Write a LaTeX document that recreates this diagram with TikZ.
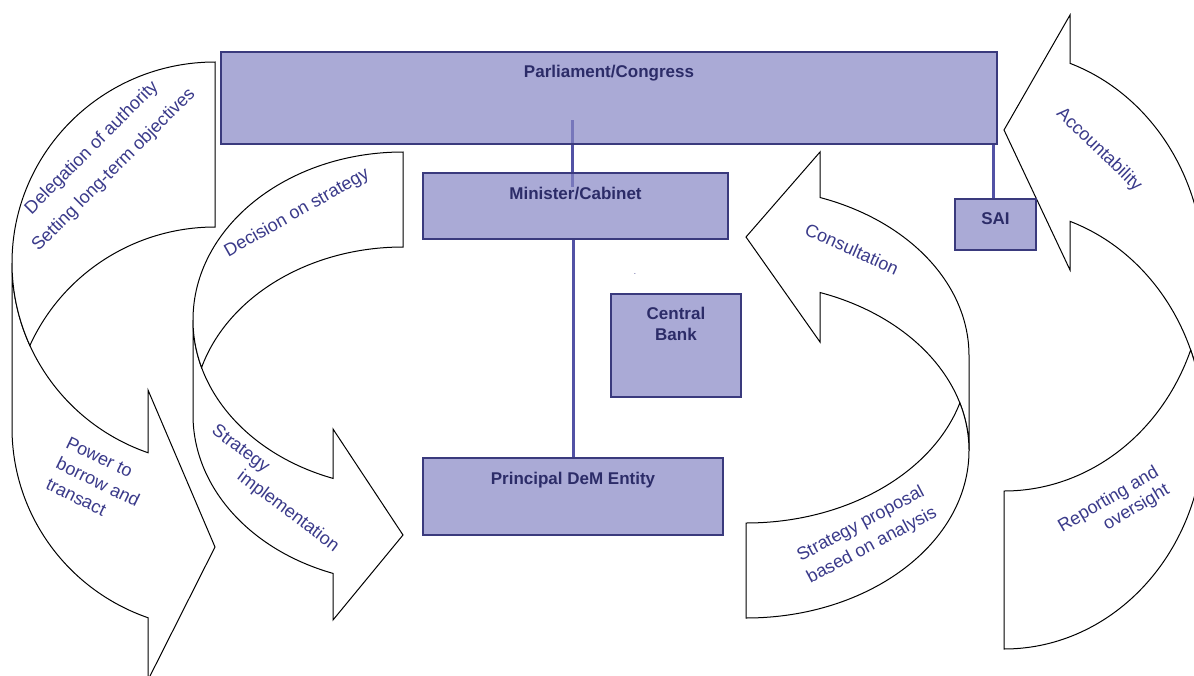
\documentclass[tikz,border=0pt]{standalone}
\usepackage{fontspec}
\setmainfont{Liberation Sans}
\usetikzlibrary{backgrounds}
\definecolor{boxfillc}{RGB}{134,134,197}
\definecolor{boxline}{RGB}{58,58,125}
\definecolor{boxtxt}{RGB}{44,44,104}
\definecolor{labtxt}{RGB}{58,58,138}
\definecolor{connc}{RGB}{82,82,165}
\begin{document}
\begin{tikzpicture}[x=1pt,y=-1pt,
  box/.style={draw=boxline, line width=2pt, fill=boxfillc, fill opacity=0.7, draw opacity=1, inner sep=0pt},
  boxtext/.style={text=boxtxt, font=\fontsize{17}{21}\selectfont\bfseries, align=center, inner sep=0pt},
  lab/.style={text=labtxt, font=\fontsize{18}{21}\selectfont, inner sep=0pt},
  bent/.style={draw=black, fill=white, line width=1pt, line join=miter},
  conn/.style={draw=connc, line width=3pt}]
\useasboundingbox (0,0) rectangle (1194,675);
\clip (0,0) rectangle (1194,675);

% boxes
\node[box, minimum width=776pt, minimum height=92pt] (parl) at (609,98) {};
\node[box, minimum width=305pt, minimum height=66pt] (minb) at (575.5,206) {};
\node[box, minimum width=130pt, minimum height=103pt] (cbank) at (676,345.5) {};
\node[box, minimum width=300pt, minimum height=77pt] (prin) at (573,496.5) {};
\node[box, minimum width=81pt, minimum height=51pt] (sai) at (995.5,224.5) {};

% box texts
\node[boxtext, anchor=base] (parlt) at (609,77.7) {Parliament/Congress};
\node[boxtext, anchor=base] (mint) at (575.5,199.3) {Minister/Cabinet};
\node[boxtext] (cbankt) at (676,324.1) {Central\\Bank};
\node[boxtext, anchor=base] (print) at (573,484.3) {Principal DeM Entity};
\node[boxtext, anchor=base] (sait) at (995.5,224) {SAI};
\node[text=labtxt, font=\fontsize{8}{8}\selectfont, inner sep=0pt] (dot) at (635,274) {.};

\begin{scope}[on background layer]
% arrow 1 (left)
\draw[bent] (12,263) arc[start angle=180,end angle=109.27,x radius=203,y radius=201]
  -- (148,390) -- (215,547) -- (148,680)
  -- ({215+203*cos(109.27)},{428+201*sin(109.27)})
  arc[start angle=109.27,end angle=180,x radius=203,y radius=201] -- cycle;
\draw[bent] (12,263) arc[start angle=180,end angle=270,x radius=203,y radius=201]
  -- (215,227) arc[start angle=270,end angle=204.23,x radius=203,y radius=201]
  arc[start angle=155.77,end angle=180,x radius=203,y radius=201] -- cycle;
% arrow 2
\draw[bent] (193,320) arc[start angle=180,end angle=109.47,x radius=210,y radius=168]
  -- (333,429) -- (403,535) -- (333,620)
  -- ({403+210*cos(109.47)},{415+168*sin(109.47)})
  arc[start angle=109.47,end angle=180,x radius=210,y radius=168] -- cycle;
\draw[bent] (193,320) arc[start angle=180,end angle=270,x radius=210,y radius=168]
  -- (403,247) arc[start angle=270,end angle=196.42,x radius=210,y radius=168]
  arc[start angle=163.58,end angle=180,x radius=210,y radius=168] -- cycle;
% arrow 3
\draw[bent] (969,450.5) arc[start angle=0,end angle=-70.62,x radius=223,y radius=167.5]
  -- (820,342) -- (746,237) -- (820,152)
  -- ({746+223*cos(-70.62)},{355.5+167.5*sin(-70.62)})
  arc[start angle=-70.62,end angle=0,x radius=223,y radius=167.5] -- cycle;
\draw[bent] (969,450.5) arc[start angle=0,end angle=90,x radius=223,y radius=167.5]
  -- (746,523) arc[start angle=90,end angle=16.47,x radius=223,y radius=167.5]
  arc[start angle=-16.47,end angle=0,x radius=223,y radius=167.5] -- cycle;
% arrow 4
\draw[bent] (1204,429) arc[start angle=0,end angle=-70.73,x radius=200,y radius=220]
  -- (1070,270) -- (1004,130) -- (1070,15)
  -- ({1004+200*cos(-70.73)},{271+220*sin(-70.73)})
  arc[start angle=-70.73,end angle=0,x radius=200,y radius=220] -- cycle;
\draw[bent] (1204,429) arc[start angle=0,end angle=90,x radius=200,y radius=220]
  -- (1004,491) arc[start angle=90,end angle=21.04,x radius=200,y radius=220]
  arc[start angle=-21.04,end angle=0,x radius=200,y radius=220] -- cycle;

% connectors
\coordinate (pmtop) at (572,120);
\coordinate (pmbot) at (572,187);
\draw[conn] (pmtop) -- (pmbot);
\draw[conn] (prin.north |- minb.south) -- (prin.north);
\draw[conn] ([xshift=-2.5pt]sai.north |- parl.south) -- ([xshift=-2.5pt]sai.north);
\end{scope}

% arrow labels
\node[lab, rotate=45, align=center] (l1) at (103,159) {Delegation of authority\\[10pt]Setting long-term objectives};
\node[lab, rotate=-26, align=left] (l2) at (98,482) {Power to\\[2pt]borrow and\\[2pt]transact};
\node[lab, rotate=29.5] (l3) at (297,213) {Decision on strategy};
\node[lab, rotate=-37, align=left] (l4) at (275,489) {Strategy\\\hspace*{48pt}implementation};
\node[lab, rotate=-24] (l5) at (852,249) {Consultation};
\node[lab, rotate=28, align=center] (l6) at (866.5,535) {Strategy proposal\\[3pt]based on analysis};
\node[lab, rotate=-44] (l7) at (1099,150) {Accountability};
\node[lab, rotate=30.5, align=right] (l8) at (1114,509) {Reporting and\\oversight};
\end{tikzpicture}
\end{document}
